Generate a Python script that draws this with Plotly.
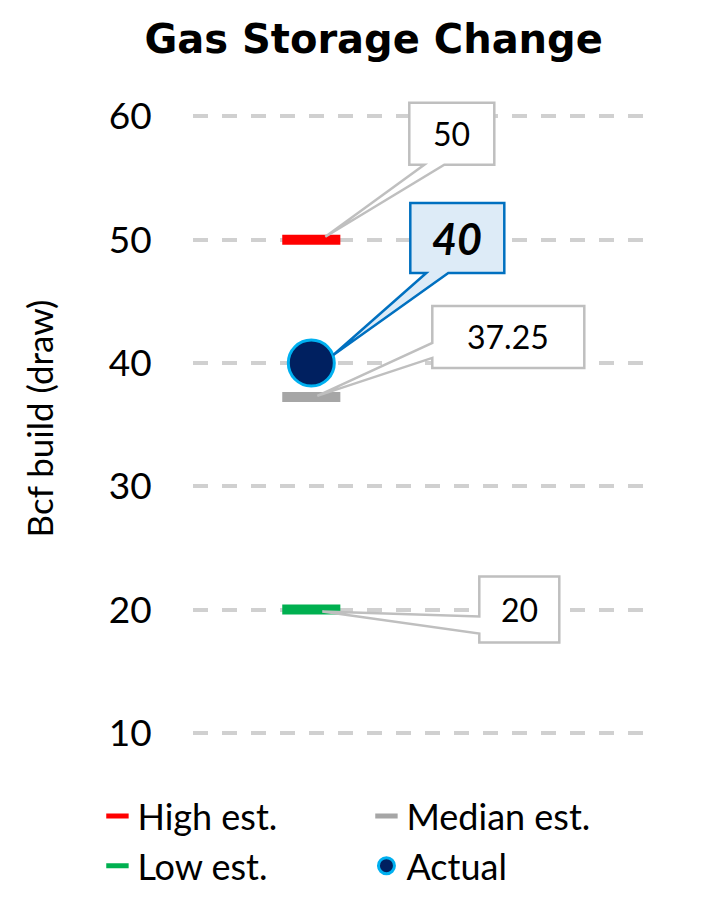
import plotly.graph_objects as go

# ---------------- data ----------------
series_names = ["High est.", "Median est.", "Low est.", "Actual"]
series_values = [50, 37.25, 20, 40]
series_colors = ["#FF0000", "#A6A6A6", "#00B050", "#002060"]
label_texts = ["50", "37.25", "20", "40"]
y_tick_values = [10, 20, 30, 40, 50, 60]
y_tick_labels = ["10", "20", "30", "40", "50", "60"]
category_x = [0]

chart_title = "Gas Storage Change"
y_title = "Bcf build (draw)"

FONT = "Lato, 'Open Sans', 'DejaVu Sans', sans-serif"
TITLE_FONT = "'DejaVu Sans', Lato, sans-serif"

fig = go.Figure()

# estimate dashes + actual dot
for name, val, col in zip(series_names, series_values, series_colors):
    if name == "Actual":
        marker = dict(symbol="circle", size=46, color=col,
                      line=dict(color="#00B0F0", width=3))
    else:
        marker = dict(symbol="line-ew", size=41.5, color=col,
                      line=dict(color=col, width=10))
    fig.add_trace(go.Scatter(x=category_x, y=[val], mode="markers",
                             name=name, marker=marker, hoverinfo="skip"))

# ---------------- callouts (style/geometry, pixel offsets from the point) ----------------
callout_style = {
    "High est.": dict(path="M 98,75 L 113,75 L 14,3 L 133,75 L 183,75 L 183,137 L 98,137 Z",
                      text=(140.5, 106), fill="#FFFFFF", line="#BFBFBF",
                      font=dict(size=32, color="#000000"), fmt="{}"),
    "Median est.": dict(path="M 121,29 L 121,39 L 6,1 L 121,54 L 121,91 L 273,91 L 273,29 Z",
                        text=(197, 60), fill="#FFFFFF", line="#BFBFBF",
                        font=dict(size=32, color="#000000"), fmt="{}"),
    "Low est.": dict(path="M 168,-33 L 168,-24 L 11,-2 L 168,-7 L 168,33 L 248,33 L 248,-33 Z",
                     text=(208, 0), fill="#FFFFFF", line="#BFBFBF",
                     font=dict(size=32, color="#000000"), fmt="{}"),
    "Actual": dict(path="M 99,90 L 115,90 L 22,8 L 137,90 L 193,90 L 193,160 L 99,160 Z",
                   text=(146, 125), fill="#DDEBF7", line="#0070C0",
                   font=dict(size=43, color="#000000"), fmt="<b><i>{}</i></b>"),
}

for name, val, txt in zip(series_names, series_values, label_texts):
    st = callout_style[name]
    fig.add_shape(type="path", path=st["path"], xref="x", yref="y",
                  xsizemode="pixel", ysizemode="pixel",
                  xanchor=category_x[0], yanchor=val,
                  fillcolor=st["fill"], line=dict(color=st["line"], width=2.5),
                  layer="above")
    fig.add_annotation(x=category_x[0], y=val, xref="x", yref="y",
                       text=st["fmt"].format(txt), showarrow=False,
                       xshift=st["text"][0], yshift=st["text"][1],
                       font=dict(family=FONT, **st["font"]))

fig.update_layout(
    width=705, height=900,
    paper_bgcolor="white", plot_bgcolor="white",
    margin=dict(l=193, r=57, t=98, b=161, autoexpand=False),
    font=dict(family=FONT, color="#000000"),
    title=dict(text="<b>" + chart_title + "</b>", x=0.53, xref="container",
               xanchor="center", y=1 - 39 / 900, yanchor="middle",
               font=dict(size=40, family=TITLE_FONT, color="#000000")),
    showlegend=True,
    legend=dict(orientation="h", x=-0.21, xanchor="left", y=-0.0733, yanchor="top",
                font=dict(size=36, family=FONT, color="#000000"),
                entrywidth=224, entrywidthmode="pixels",
                traceorder="normal", itemclick=False, itemdoubleclick=False),
    xaxis=dict(range=[-1, 2.846], visible=False, showgrid=False, zeroline=False, fixedrange=True),
    yaxis=dict(range=[9.5, 61.5], tickvals=y_tick_values, ticktext=y_tick_labels,
               showgrid=True, gridcolor="#D0D0D0", gridwidth=4, griddash="15px,14px",
               zeroline=False, showline=False,
               ticks="outside", ticklen=33, tickcolor="rgba(0,0,0,0)",
               tickfont=dict(size=37, family=FONT, color="#000000"),
               title=dict(text=y_title, standoff=44,
                          font=dict(size=35, family=FONT, color="#000000")),
               fixedrange=True),
)

fig.write_html("out.html", config={"displayModeBar": False, "staticPlot": True},
               post_script="document.body.style.margin='0';document.body.style.overflow='hidden';")
